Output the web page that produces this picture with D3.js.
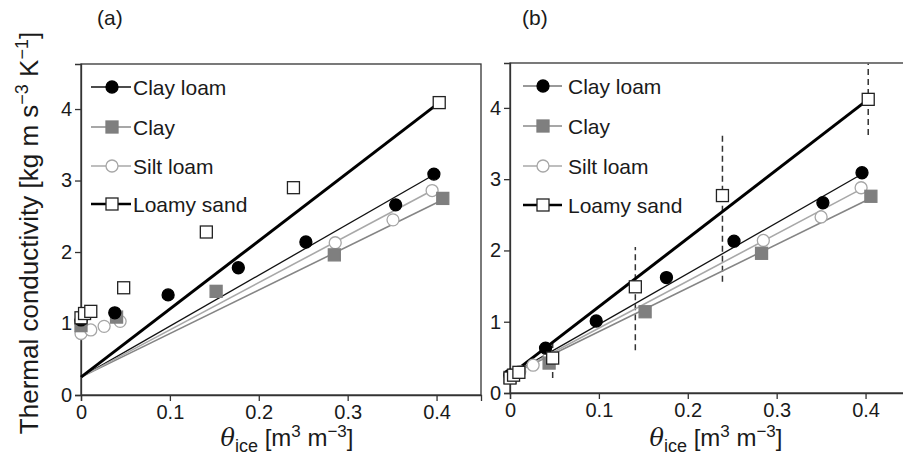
<!DOCTYPE html>
<html>
<head>
<meta charset="utf-8">
<script src="https://cdn.jsdelivr.net/npm/d3@7"></script>
<style>
  body { margin: 0; background: #fff; }
  text { font-family: "Liberation Sans", Arial, sans-serif; fill: #1a1a1a; }
</style>
</head>
<body>
<div id="chart"></div>
<script>
// soil classes and their styles in legend order
const soils = ["Clay loam", "Clay", "Silt loam", "Loamy sand"];

// panel (a): measured values
const clayLoamAx = [0.0, 0.038, 0.098, 0.177, 0.253, 0.354, 0.397];
const clayLoamAy = [1.05, 1.15, 1.40, 1.78, 2.14, 2.66, 3.09];
const clayAx = [0.0, 0.040, 0.152, 0.285, 0.407];
const clayAy = [0.97, 1.09, 1.45, 1.96, 2.75];
const siltLoamAx = [0.0, 0.011, 0.026, 0.044, 0.286, 0.351, 0.395];
const siltLoamAy = [0.86, 0.91, 0.96, 1.03, 2.13, 2.45, 2.86];
const loamySandAx = [0.0, 0.004, 0.011, 0.048, 0.141, 0.239, 0.403];
const loamySandAy = [1.08, 1.14, 1.17, 1.50, 2.28, 2.90, 4.09];

// panel (b): measured values
const clayLoamBx = [0.0, 0.040, 0.097, 0.176, 0.252, 0.352, 0.396];
const clayLoamBy = [0.25, 0.63, 1.01, 1.62, 2.13, 2.67, 3.09];
const clayBx = [0.0, 0.044, 0.152, 0.283, 0.406];
const clayBy = [0.22, 0.42, 1.14, 1.96, 2.76];
const siltLoamBx = [0.0, 0.011, 0.026, 0.044, 0.285, 0.350, 0.395];
const siltLoamBy = [0.24, 0.30, 0.39, 0.50, 2.14, 2.47, 2.88];
const loamySandBx = [0.0, 0.004, 0.010, 0.048, 0.141, 0.239, 0.403];
const loamySandBy = [0.21, 0.25, 0.29, 0.49, 1.49, 2.77, 4.12];

// fitted lines (same order as soils): start at intercept, end at last point
const fitIntercept = [0.25, 0.25, 0.25, 0.25];
const fitEndX = [0.397, 0.407, 0.395, 0.403];
const fitEndYA = [3.08, 2.73, 2.86, 4.09];
const fitEndYB = [3.08, 2.74, 2.86, 4.12];

// panel (b): loamy sand uncertainty ranges (dashed)
const rangeX = [0.010, 0.048, 0.141, 0.239, 0.403];
const rangeLow = [0.17, 0.21, 0.60, 1.56, 3.62];
const rangeHigh = [0.38, 0.72, 2.05, 3.62, 4.62];

const xTicks = [0, 0.1, 0.2, 0.3, 0.4];
const xTickLabels = ["0", "0.1", "0.2", "0.3", "0.4"];
const yTicks = [0, 1, 2, 3, 4];

const width = 903, height = 459;

const styles = [
  { shape: "circle", fill: "#000", stroke: "#000", line: "#111", lw: 1.3 },
  { shape: "square", fill: "#7f7f7f", stroke: "#7f7f7f", line: "#858585", lw: 1.6 },
  { shape: "circle", fill: "#fff", stroke: "#a6a6a6", line: "#a8a8a8", lw: 1.6 },
  { shape: "square", fill: "#fff", stroke: "#222", line: "#000", lw: 3 }
];

const svg = d3.select("#chart").append("svg")
  .attr("width", width)
  .attr("height", height);

function zip(xs, ys) { return xs.map((x, i) => ({ x: x, y: ys[i] })); }

const panels = [
  {
    label: "(a)", labelX: 97,
    left: 81, right: 481, top: 64, bottom: 395,
    series: [zip(clayLoamAx, clayLoamAy), zip(clayAx, clayAy), zip(siltLoamAx, siltLoamAy), zip(loamySandAx, loamySandAy)],
    fitEndY: fitEndYA,
    legend: { x0: 91, x1: 131, mark: 112, text: 133, ys: [87, 127, 166, 204],
              lines: ["#111", "#8a8a8a", "#a8a8a8", "#000"] },
    ranges: false
  },
  {
    label: "(b)", labelX: 522,
    left: 510, right: 910, top: 63, bottom: 393,
    series: [zip(clayLoamBx, clayLoamBy), zip(clayBx, clayBy), zip(siltLoamBx, siltLoamBy), zip(loamySandBx, loamySandBy)],
    fitEndY: fitEndYB,
    legend: { x0: 523, x1: 562, mark: 543, text: 568, ys: [86, 126, 166, 205],
              lines: ["#777", "#8a8a8a", "#a8a8a8", "#000"] },
    ranges: true
  }
];

function drawMarker(g, shape, cx, cy, st) {
  if (shape === "circle") {
    g.append("circle").attr("cx", cx).attr("cy", cy).attr("r", 6)
      .attr("fill", st.fill).attr("stroke", st.stroke).attr("stroke-width", 1.3);
  } else {
    g.append("rect").attr("x", cx - 6).attr("y", cy - 6).attr("width", 12).attr("height", 12)
      .attr("fill", st.fill).attr("stroke", st.stroke).attr("stroke-width", 1.3);
  }
}

panels.forEach(p => {
  const x = d3.scaleLinear().domain([0, 0.45]).range([p.left, p.right]);
  const y = d3.scaleLinear().domain([0, 4.63]).range([p.bottom, p.top]);
  const g = svg.append("g");

  // frame
  g.append("rect")
    .attr("x", p.left).attr("y", p.top)
    .attr("width", p.right - p.left).attr("height", p.bottom - p.top)
    .attr("fill", "none").attr("stroke", "#333").attr("stroke-width", 1.3);

  // axes
  const xAxis = g.append("g")
    .attr("transform", `translate(0,${p.bottom})`)
    .call(d3.axisBottom(x).tickValues(xTicks).tickFormat((d, i) => xTickLabels[i]).tickSize(6).tickPadding(4));
  const yAxis = g.append("g")
    .attr("transform", `translate(${p.left},0)`)
    .call(d3.axisLeft(y).tickValues(yTicks).tickFormat(d3.format("d")).tickSize(6).tickPadding(3));
  [xAxis, yAxis].forEach(a => {
    a.select(".domain").attr("stroke", "#333").attr("stroke-width", 1.3);
    a.selectAll(".tick line").attr("stroke", "#333").attr("stroke-width", 1.3);
    a.selectAll(".tick text").attr("font-size", 20).attr("fill", "#222")
      .attr("font-family", "Liberation Sans, Arial, sans-serif");
  });

  // dashed ranges
  if (p.ranges) {
    g.selectAll("line.range")
      .data(rangeX.map((v, i) => ({ x: v, lo: rangeLow[i], hi: rangeHigh[i] })))
      .enter().append("line")
      .attr("class", "range")
      .attr("x1", d => x(d.x)).attr("x2", d => x(d.x))
      .attr("y1", d => y(d.lo)).attr("y2", d => y(d.hi))
      .attr("stroke", "#333").attr("stroke-width", 1.5)
      .attr("stroke-dasharray", "6,4");
  }

  // fitted lines
  soils.forEach((s, i) => {
    g.append("line")
      .attr("x1", x(0)).attr("y1", y(fitIntercept[i]))
      .attr("x2", x(fitEndX[i])).attr("y2", y(p.fitEndY[i]))
      .attr("stroke", styles[i].line).attr("stroke-width", styles[i].lw);
  });

  // points (draw lightest first so dark marks sit on top)
  [2, 1, 0, 3].forEach(i => {
    p.series[i].forEach(d => drawMarker(g, styles[i].shape, x(d.x), y(d.y), styles[i]));
  });

  // legend
  soils.forEach((s, i) => {
    const ly = p.legend.ys[i];
    g.append("line")
      .attr("x1", p.legend.x0).attr("x2", p.legend.x1)
      .attr("y1", ly).attr("y2", ly)
      .attr("stroke", p.legend.lines[i])
      .attr("stroke-width", i === 3 ? 2.6 : 1.5);
    drawMarker(g, styles[i].shape, p.legend.mark, ly, styles[i]);
    g.append("text")
      .attr("x", p.legend.text).attr("y", ly + 7.5)
      .attr("font-size", 21)
      .text(s);
  });

  // panel label
  svg.append("text").attr("x", p.labelX).attr("y", 25)
    .attr("font-size", 21).text(p.label);

  // x axis title
  const xt = svg.append("text")
    .attr("x", (p.left + p.right) / 2 + 6).attr("y", 446)
    .attr("text-anchor", "middle").attr("font-size", 24);
  xt.append("tspan").attr("font-style", "italic").attr("font-family", "DejaVu Serif, serif").text("θ");
  xt.append("tspan").attr("font-size", 18).attr("dy", 6).text("ice");
  xt.append("tspan").attr("dy", -6).text(" [m");
  xt.append("tspan").attr("font-size", 17).attr("dy", -9).text("3");
  xt.append("tspan").attr("dy", 9).text(" m");
  xt.append("tspan").attr("font-size", 17).attr("dy", -9).text("−3");
  xt.append("tspan").attr("dy", 9).text("]");
});

// y axis title
const yt = svg.append("text")
  .attr("transform", "translate(38,233) rotate(-90)")
  .attr("text-anchor", "middle").attr("font-size", 26);
yt.append("tspan").text("Thermal conductivity [kg m s");
yt.append("tspan").attr("font-size", 18).attr("dy", -10).text("−3");
yt.append("tspan").attr("dy", 10).text(" K");
yt.append("tspan").attr("font-size", 18).attr("dy", -10).text("−1");
yt.append("tspan").attr("dy", 10).text("]");
</script>
</body>
</html>
